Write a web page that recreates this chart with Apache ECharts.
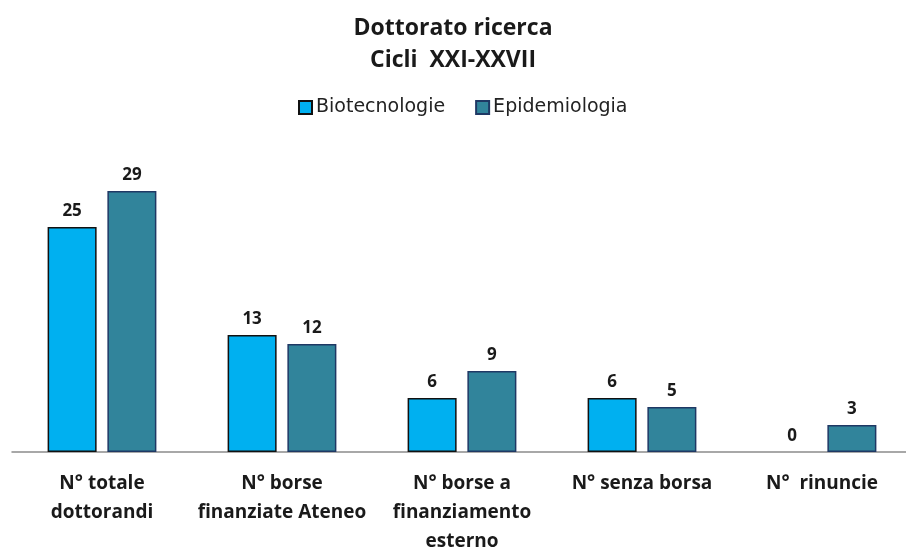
<!DOCTYPE html>
<html>
<head>
<meta charset="utf-8">
<script src="https://cdn.jsdelivr.net/npm/echarts@6/dist/echarts.min.js"></script>
<style>
  html, body { margin: 0; padding: 0; background: #fff; }
  #chart { width: 906px; height: 548px; }
</style>
</head>
<body>
<div id="chart"></div>
<script>
const categories = [
  'N° totale\ndottorandi',
  'N° borse\nfinanziate Ateneo',
  'N° borse a\nfinanziamento\nesterno',
  'N° senza borsa',
  'N°  rinuncie'
]
const biotecnologie = [25, 13, 6, 6, 0]
const epidemiologia = [29, 12, 9, 5, 3]

const labelFont = '"Open Sans", sans-serif'

const setSeries = (name, data, color, border) => {
  return {
    name: name,
    type: 'bar',
    // a zero bar has no visible outline in the original
    data: data.map(v => v === 0 ? { value: v, itemStyle: { borderWidth: 0 } } : v),
    barWidth: 49,
    barGap: '22%',
    itemStyle: { color: color, borderColor: border, borderWidth: 1.5 },
    label: {
      show: true,
      position: 'top',
      distance: 7,
      fontFamily: labelFont,
      fontSize: 17,
      fontWeight: 'bold',
      color: '#1a1a1a'
    }
  }
}

const chart = echarts.init(document.getElementById('chart'))
const option = {
  backgroundColor: '#fff',
  animation: false,
  title: {
    text: 'Dottorato ricerca\nCicli  XXI-XXVII',
    left: 'center',
    top: 7,
    textStyle: {
      fontFamily: labelFont,
      fontSize: 23,
      fontWeight: 'bold',
      lineHeight: 32,
      color: '#1a1a1a'
    }
  },
  legend: {
    top: 93,
    left: 293,
    icon: 'rect',
    itemWidth: 13,
    itemHeight: 13,
    itemGap: 30,
    textStyle: { fontFamily: '"DejaVu Sans", sans-serif', fontSize: 19, color: '#222', padding: [0, 0, 0, -1] }
  },
  grid: { left: 12, top: 182, width: 900, height: 270, outerBoundsMode: 'none' },
  xAxis: {
    type: 'category',
    data: categories,
    axisTick: { show: false },
    axisLine: { lineStyle: { color: '#8c8c8c', width: 1.5 } },
    axisLabel: {
      interval: 0,
      margin: 17,
      fontFamily: labelFont,
      fontSize: 19,
      fontWeight: 'bold',
      lineHeight: 29,
      color: '#1a1a1a'
    }
  },
  yAxis: {
    type: 'value',
    min: 0,
    max: 30,
    show: false,
    splitLine: { show: false }
  },
  series: [
    setSeries('Biotecnologie', biotecnologie, '#00b0f0', '#111'),
    setSeries('Epidemiologia', epidemiologia, '#31849b', '#1f3864')
  ]
}
chart.setOption(option)
</script>
</body>
</html>
